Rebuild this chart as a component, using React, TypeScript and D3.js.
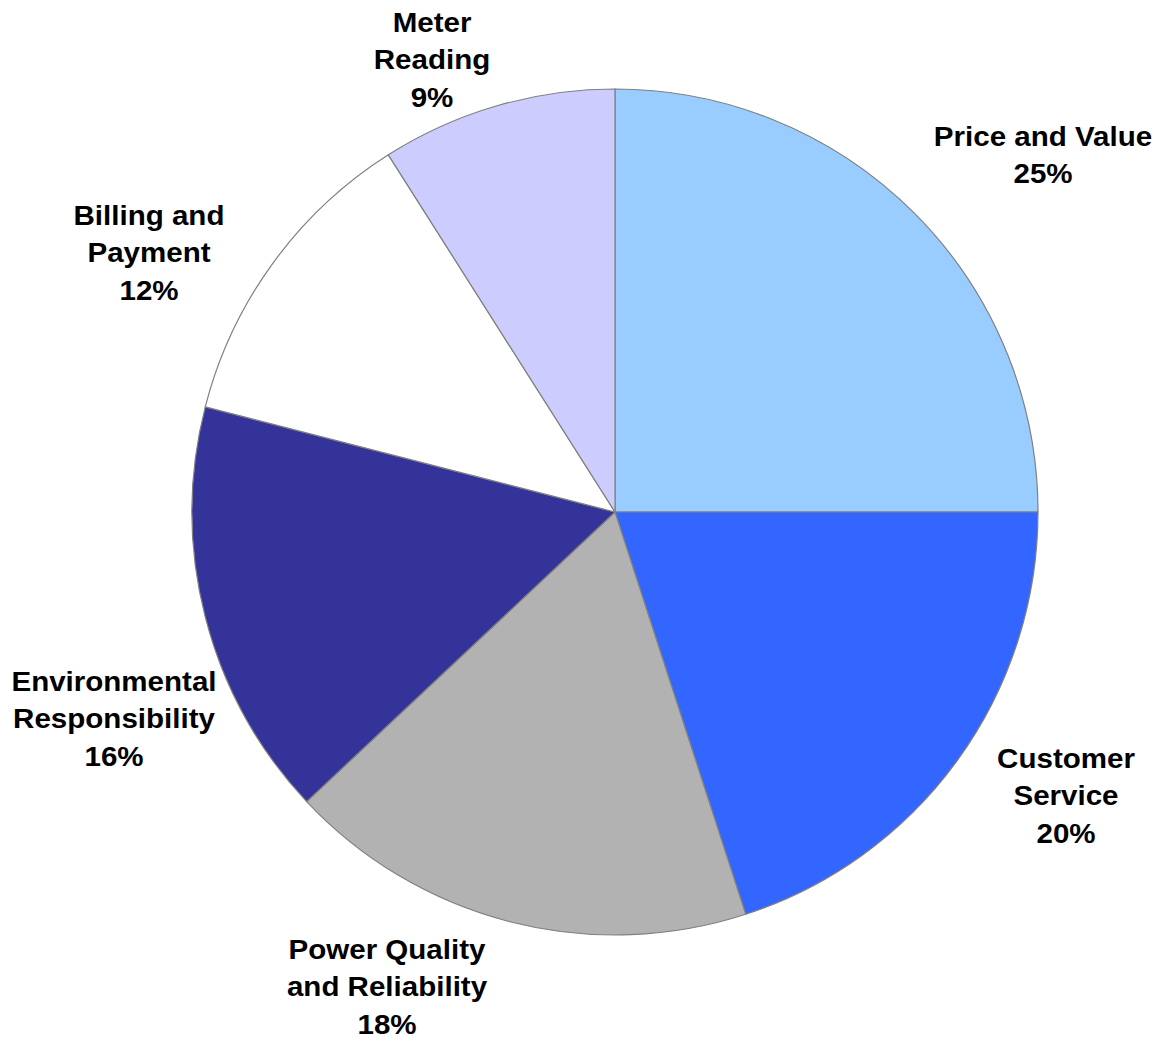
import { useEffect, useRef } from 'react';
import * as d3 from 'd3';

// Slices clockwise from 12 o'clock
const categories = [
  'Price and Value',
  'Customer Service',
  'Power Quality and Reliability',
  'Environmental Responsibility',
  'Billing and Payment',
  'Meter Reading',
];
const values = [25, 20, 18, 16, 12, 9];
const colors = ['#99CCFF', '#3366FF', '#B2B2B2', '#333399', '#FFFFFF', '#CCCCFF'];

// label lines as Excel wrapped them
const labelLines = [
  ['Price and Value'],
  ['Customer', 'Service'],
  ['Power Quality', 'and Reliability'],
  ['Environmental', 'Responsibility'],
  ['Billing and', 'Payment'],
  ['Meter', 'Reading'],
];

const width = 1159;
const height = 1037;

export default function App() {
  const svgRef = useRef<SVGSVGElement>(null);

  useEffect(() => {
    if (!svgRef.current) return;
    const svg = d3.select(svgRef.current);
    svg.selectAll('*').remove();

    const cx = 615;
    const cy = 512;
    const radius = 423;
    const g = svg.append('g').attr('transform', `translate(${cx},${cy})`);

    const pie = d3.pie<number>().sort(null).value(d => d);
    const arcs = pie(values);
    const arc = d3.arc<d3.PieArcDatum<number>>().innerRadius(0).outerRadius(radius);

    g.selectAll('path')
      .data(arcs)
      .join('path')
      .attr('d', arc)
      .attr('fill', (_, i) => colors[i])
      .attr('stroke', '#808080')
      .attr('stroke-width', 1.2);

    // label centres (first baseline) relative to pie centre
    const labelPos: [number, number][] = [
      [428, -366],
      [451, 256],
      [-228, 447],
      [-501, 179],
      [-466, -287],
      [-183, -480],
    ];
    const lineH = 37.5;

    arcs.forEach((a, i) => {
      const [lx, ly] = labelPos[i];
      const lines = [...labelLines[i], `${values[i]}%`];
      // the original text is a touch wider than Arial at this size
      const t = g.append('text')
        .attr('transform', `translate(${lx},${ly}) scale(1.055,1)`)
        .attr('text-anchor', 'middle')
        .attr('font-family', 'Liberation Sans, Arial, sans-serif')
        .attr('font-weight', 'bold')
        .attr('font-size', '28px')
        .attr('fill', '#000');
      lines.forEach((ln, j) => {
        t.append('tspan').attr('x', 0).attr('y', j * lineH).text(ln);
      });
    });
  }, []);

  return (
    <svg ref={svgRef} width={width} height={height} style={{ position: 'absolute', left: 0, top: 0 }} />
  );
}
